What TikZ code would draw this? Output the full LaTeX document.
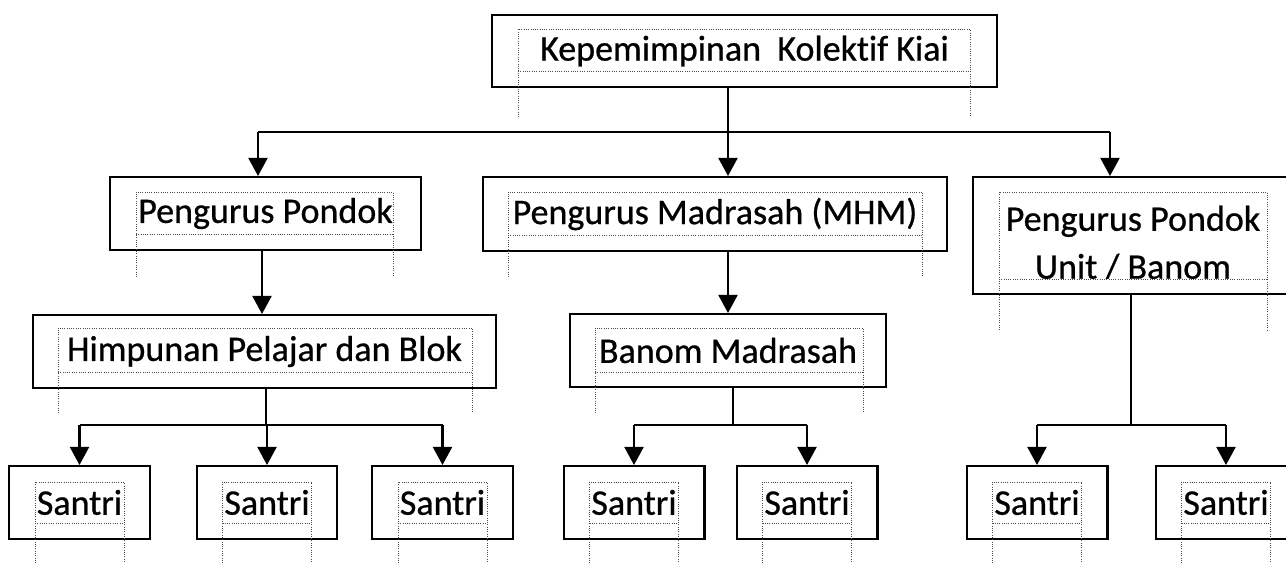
\documentclass[tikz,border=0pt]{standalone}
\usepackage{fontspec}
\setmainfont{Carlito}[FakeBold=0.7,Ligatures=NoCommon]
\usetikzlibrary{arrows.meta}
\newcommand{\txtframe}[5]{\draw[tframe] (#1,#5)--(#1,#3)--(#2,#3)--(#2,#5) (#1,#4)--(#2,#4);}

\begin{document}
\begin{tikzpicture}[x=0.02cm,y=-0.02cm,line width=1.15pt,
  box/.style={draw,rectangle,inner sep=0pt,minimum height=1.46cm,align=center},
  tframe/.style={line width=0.5pt,black!70,dash pattern=on 0.5pt off 0.8pt},
  arr/.style={-{Triangle[width=0.38cm,length=0.36cm]}},
  every node/.style={font=\fontsize{20.5pt}{27.3pt}\selectfont}]
 \useasboundingbox (0,0) rectangle (1286,563);
 % boxes
 \node[box,minimum width=10.1cm,minimum height=1.44cm] (kiai) at (744.5,51) {Kepemimpinan\ \ Kolektif Kiai};
 \node[box,minimum width=6.22cm] (pondok) at (265.5,213.5) {Pengurus Pondok};
 \node[box,minimum width=9.28cm,minimum height=1.48cm] (madrasah) at (715,214) {Pengurus Madrasah (MHM)};
 \node[box,minimum width=6.4cm,minimum height=2.34cm] (unit) at (1133,235.5) {};
 \begin{scope}
  \clip (973,177) rectangle (1290,279);
  \node[align=center] (unitlbl) at (1133,243) {Pengurus Pondok\\Unit / Banom};
 \end{scope}
 \node[box,minimum width=9.26cm] (himpunan) at (264.5,351.5) {Himpunan Pelajar dan Blok};
 \node[box,minimum width=6.32cm] (banom) at (728,350.5) {Banom Madrasah};
 \foreach \x [count=\i] in {79.5,267,442.5,634,807,1037,1226}{
   \node[box,minimum width=2.82cm] (s\i) at (\x,502.5) {Santri};
   \txtframe{\x-44.5}{\x+44.5}{482}{523}{563}
 }
 % text frames
 \txtframe{518}{970}{29}{71}{117}
 \txtframe{136}{393}{192}{234}{277}
 \txtframe{508}{922}{192}{235}{277}
 \txtframe{999}{1267}{192}{279}{330}
 \txtframe{58}{472}{328}{372}{413}
 \txtframe{595}{863}{328}{372}{413}
 % connectors
 \coordinate (j0) at (728,132); \coordinate (j0l) at (258,132); \coordinate (j0r) at (1110,132);
 \draw (kiai.south -| j0) -- (j0);
 \draw (j0l) -- (j0r);
 \draw[arr] (j0l) -- (j0l |- pondok.north);
 \draw[arr] (j0) -- (j0 |- madrasah.north);
 \draw[arr] (j0r) -- (j0r |- unit.north);
 \coordinate (p1) at (262,0); \coordinate (p2) at (728,0);
 \draw[arr] (pondok.south -| p1) -- (himpunan.north -| p1);
 \draw[arr] (madrasah.south -| p2) -- (banom.north -| p2);
 \coordinate (j1) at (266,425); \coordinate (j2) at (733,425); \coordinate (j3) at (1131,425);
 \draw (himpunan.south -| j1) -- (j1);
 \draw (banom.south -| j2) -- (j2);
 \draw (unit.south -| j3) -- (j3);
 \draw (j1 -| s1) -- (j1 -| s3);
 \draw (j2 -| s4) -- (j2 -| s5);
 \draw (j3 -| s6) -- (j3 -| s7);
 \foreach \s/\j in {s1/j1,s2/j1,s3/j1,s4/j2,s5/j2,s6/j3,s7/j3}
   \draw[arr] (\j -| \s) -- (\s.north);
\end{tikzpicture}
\end{document}
